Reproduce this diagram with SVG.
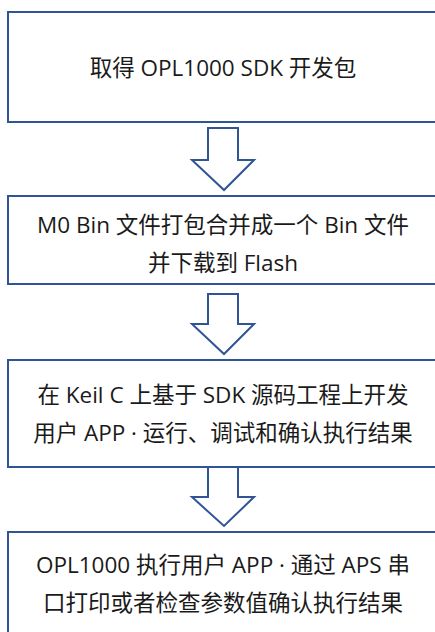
<svg xmlns="http://www.w3.org/2000/svg" width="435" height="632" viewBox="0 0 435 632">
<style>
.box{fill:#fff;stroke:#2F5597;stroke-width:2}
.arr{fill:#fff;stroke:#2F5597;stroke-width:2;stroke-linejoin:miter}
text{font-family:"Open Sans","Noto Sans CJK SC",sans-serif;font-size:22.5px;fill:#1a1a1a;text-anchor:middle}
</style>
<rect width="435" height="632" fill="#fff"/>
<g id="connectors">
<polygon class="arr" points="208,128 238,128 238,160 254,160 224,190 192,160 208,160"/>
<polygon class="arr" points="208,294 238,294 238,324 254,324 224,354 192,324 208,324"/>
<polygon class="arr" points="208,467 238,467 238,497 254,497 224,526 192,497 208,497"/>
</g>
<g id="n1">
<rect class="box" x="8" y="12" width="432" height="110"/>
<text x="223" y="76">取得 OPL1000 SDK 开发包</text>
</g>
<g id="n2">
<rect class="box" x="8" y="196" width="432" height="88"/>
<text x="223" y="233">M0 Bin 文件打包合并成一个 Bin 文件</text>
<text x="223" y="271">并下载到 Flash</text>
</g>
<g id="n3">
<rect class="box" x="8" y="360" width="432" height="107"/>
<text x="223" y="403">在 Keil C 上基于 SDK 源码工程上开发</text>
<text x="223" y="441">用户 APP · 运行、调试和确认执行结果</text>
</g>
<g id="n4">
<rect class="box" x="8" y="532" width="432" height="110"/>
<text x="223" y="573">OPL1000 执行用户 APP · 通过 APS 串</text>
<text x="223" y="611">口打印或者检查参数值确认执行结果</text>
</g>
</svg>
